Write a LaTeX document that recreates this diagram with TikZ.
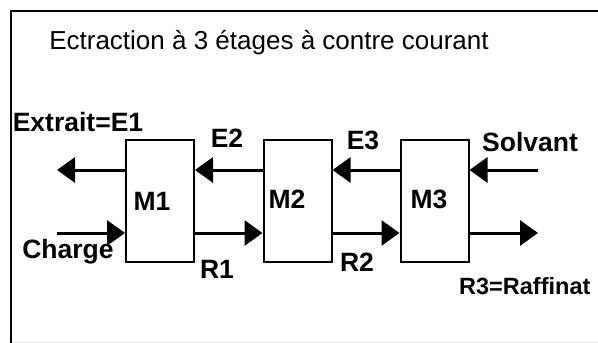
\documentclass[tikz,border=0pt]{standalone}
\usepackage{fontspec}
\setmainfont{Liberation Sans}
\usetikzlibrary{arrows.meta}

\begin{document}
\begin{tikzpicture}[x=1pt,y=-1pt,
    mbox/.style={draw, line width=2pt, minimum width=68pt, minimum height=122pt, inner sep=0pt},
    lab/.style={font=\fontsize{26.5}{30}\selectfont\bfseries, inner sep=0pt},
    flow/.style={line width=3pt, -{Triangle[length=18pt,width=25pt]}}]
        % page and frame
        \useasboundingbox (0,0) rectangle (598,343);
        \draw[line width=2pt] (11,343) -- (11,11) -- (598,11);
        \draw[black!10] (12,342) -- (598,342);

        % title
        \node[inner sep=0pt, font=\fontsize{26}{30}\selectfont] (titre) at (269,43) {Ectraction à 3 étages à contre courant};

        % the three stages
        \node[mbox] (m1) at (160,201) {};
        \node[mbox] (m2) at (297.5,201) {};
        \node[mbox] (m3) at (434.5,201) {};
        \node[lab] (m1lab) at (152,201) {M1};
        \node[lab] (m2lab) at (287,199) {M2};
        \node[lab] (m3lab) at (429,199) {M3};

        % free ends
        \coordinate (extrait) at (57,170);
        \coordinate (charge) at (57,233);
        \coordinate (solvant) at (538,170);
        \coordinate (raffinat) at (538,233);

        %extract phase, right to left
        \draw[flow] (solvant) -- ([yshift=31pt]m3.east);
        \draw[flow] ([yshift=31pt]m3.west) -- ([yshift=31pt]m2.east);
        \draw[flow] ([yshift=31pt]m2.west) -- ([yshift=31pt]m1.east);
        \draw[flow] ([yshift=31pt]m1.west) -- (extrait);

        %raffinate phase, left to right
        \draw[flow] (charge) -- ([yshift=-32pt]m1.west);
        \draw[flow] ([yshift=-32pt]m1.east) -- ([yshift=-32pt]m2.west);
        \draw[flow] ([yshift=-32pt]m2.east) -- ([yshift=-32pt]m3.west);
        \draw[flow] ([yshift=-32pt]m3.east) -- (raffinat);

        % stream labels
        \node[lab] (e1lab) at (78,122) {Extrait=E1};
        \node[lab] (e2lab) at (227,138) {E2};
        \node[lab] (e3lab) at (363,140) {E3};
        \node[lab] (slab) at (530,142) {Solvant};
        \node[lab] (chlab) at (68,252) {Charge};
        \node[lab] (r1lab) at (217,269) {R1};
        \node[lab] (r2lab) at (357,262) {R2};
        \node[lab, font=\fontsize{23.5}{28}\selectfont\bfseries, anchor=west] (r3lab) at (459,286) {R3=Raffinat};
    \end{tikzpicture}
\end{document}
